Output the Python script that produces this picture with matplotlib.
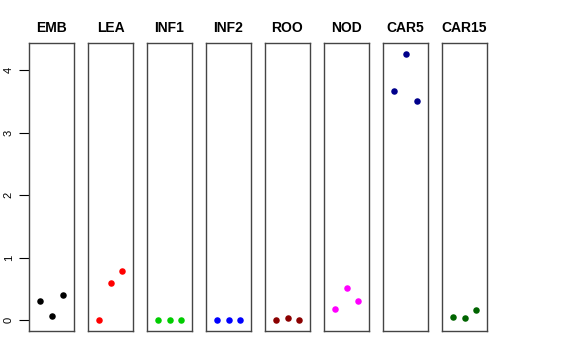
import matplotlib
matplotlib.use('Agg')
import matplotlib.pyplot as plt

plt.rcParams['font.family'] = ['Liberation Sans', 'DejaVu Sans']

tissues = ['EMB', 'LEA', 'INF1', 'INF2', 'ROO', 'NOD', 'CAR5', 'CAR15']
colors = ['black', 'red', '#00CD00', 'blue', '#8B0000', 'magenta', '#00008B', '#006400']
reps = [1, 2, 3]
values = [
    [0.31, 0.07, 0.41],
    [0.00, 0.59, 0.79],
    [0.00, 0.00, 0.00],
    [0.00, 0.00, 0.00],
    [0.00, 0.04, 0.00],
    [0.18, 0.52, 0.31],
    [3.66, 4.26, 3.50],
    [0.06, 0.03, 0.16],
]

W, H = 576, 360
fig = plt.figure(figsize=(W / 100, H / 100), dpi=100)

ymax = max(max(v) for v in values)
pad = 0.04 * ymax
for i, (name, col, vals) in enumerate(zip(tissues, colors, values)):
    left = 29 + i * 59
    ax = fig.add_axes([left / W, (H - 331) / H, 45 / W, 288 / H])
    ax.scatter(reps, vals, s=22, color=col, zorder=3, linewidths=0)
    ax.set_xlim(0, 4)
    ax.set_ylim(-pad, ymax + pad)
    ax.set_xticks([])
    for s in ax.spines.values():
        s.set_color('#444444')
        s.set_linewidth(1)
    ax.set_title(name, fontsize=10, fontweight='bold', pad=8)
    if i == 0:
        ax.set_yticks([0, 1, 2, 3, 4])
        ax.tick_params(axis='y', length=7, width=0.8, labelsize=8, pad=4)
        for lab in ax.get_yticklabels():
            lab.set_rotation(90)
            lab.set_va('center')
    else:
        ax.set_yticks([])

fig.savefig('out.png', dpi=100)
